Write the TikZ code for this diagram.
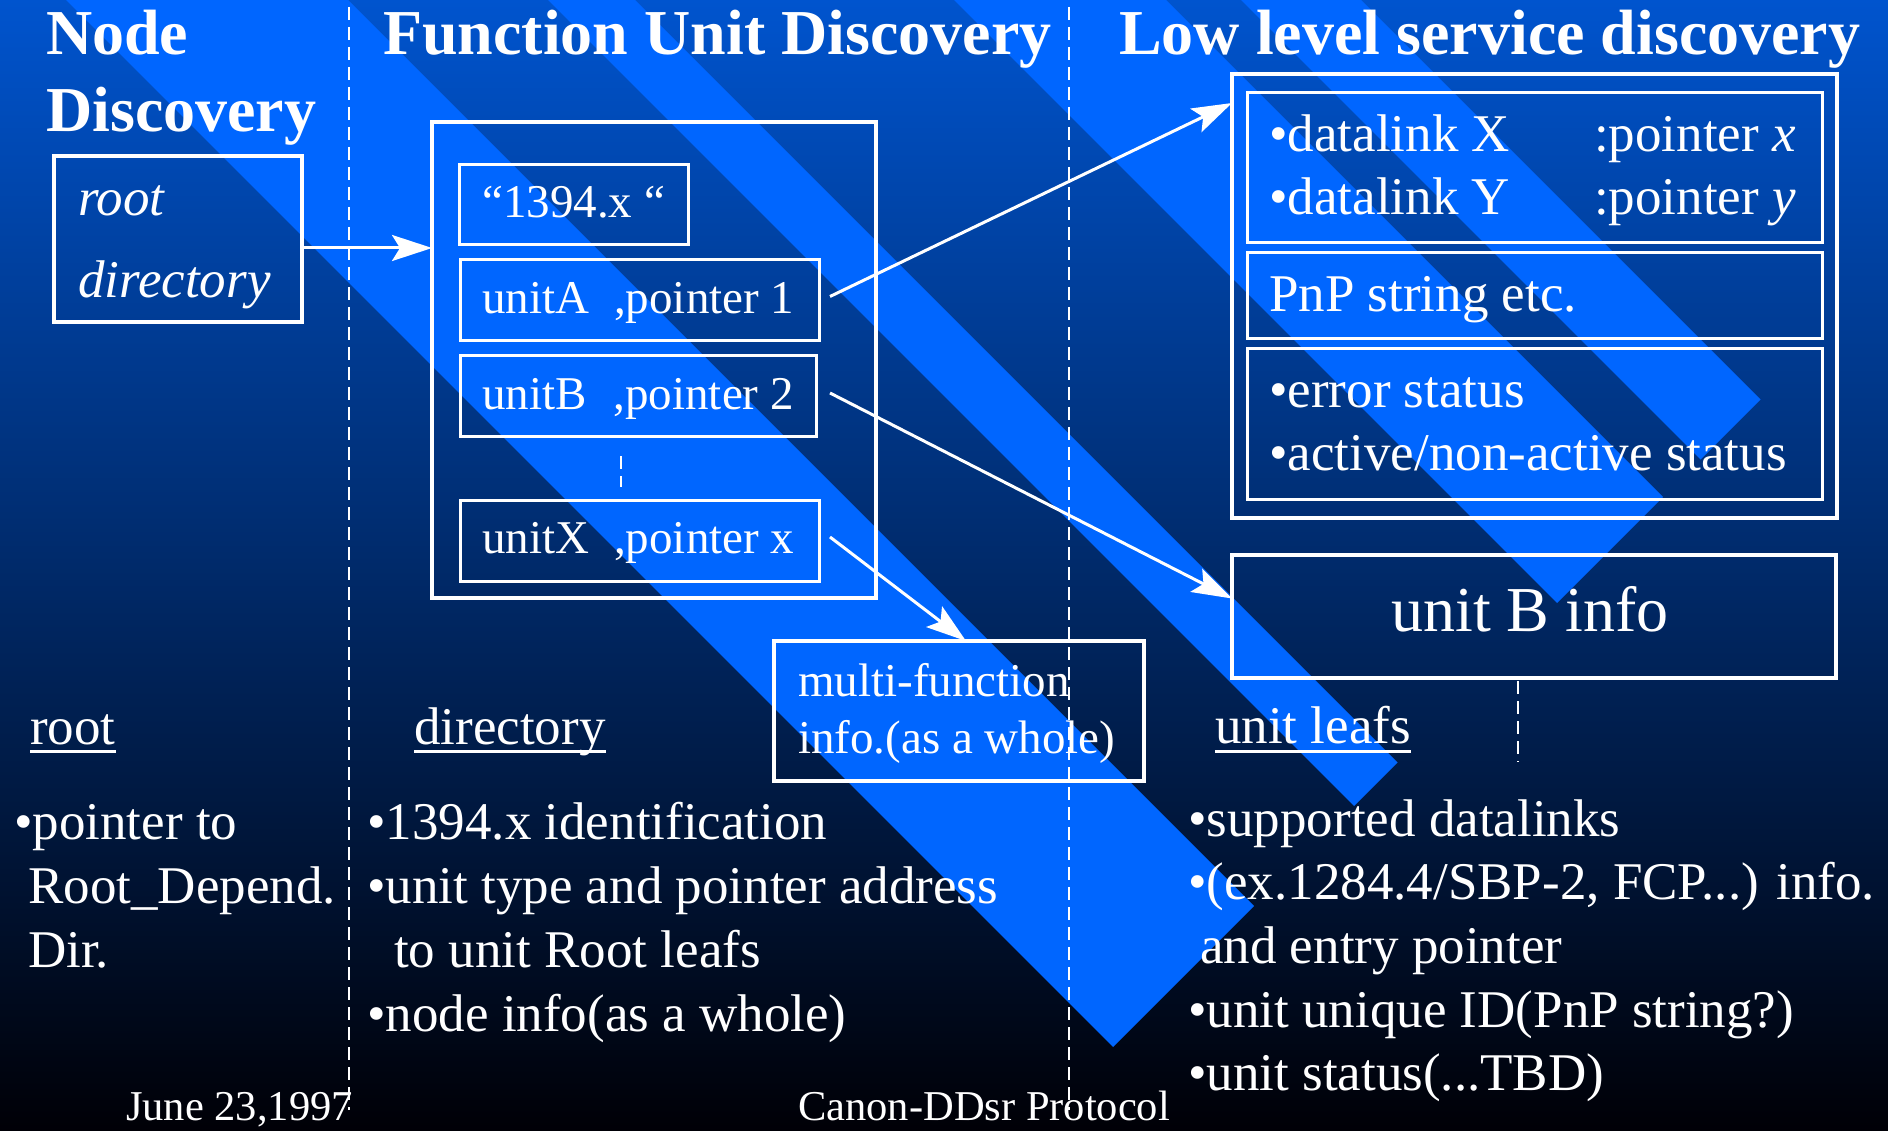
\documentclass[tikz,border=0pt]{standalone}
\usepackage{fontspec}
\setmainfont{Liberation Serif}
\usetikzlibrary{arrows.meta}
\definecolor{bgtop}{RGB}{0,84,206}
\definecolor{bgbot}{RGB}{0,0,6}
\definecolor{stripecol}{RGB}{0,102,255}
\begin{document}
\begin{tikzpicture}[x=1pt,y=-1pt,
  txt/.style={anchor=base west, inner sep=0pt, text=white, font=\fontsize{53}{60}\selectfont},
  sm/.style={txt, font=\fontsize{47}{54}\selectfont},
  ttl/.style={txt, font=\fontsize{64}{70}\selectfont\bfseries},
  foot/.style={txt, font=\fontsize{42.5}{48}\selectfont},
  obox/.style={draw=white, line width=4.5pt, anchor=north west, inner sep=0pt, outer sep=0pt},
  ibox/.style={obox, line width=3pt},
  dashline/.style={draw=white, line width=2.5pt, dash pattern=on 13pt off 7pt},
  arr/.style={draw=white, line width=3pt, -{Stealth[length=40pt,width=26pt,inset=8pt]}},
  uline/.style={draw=white, line width=3pt}]

\useasboundingbox (0,0) rectangle (1888,1131);
\shade[top color=bgtop, bottom color=bgbot] (0,0) rectangle (1888,1131);

% diagonal ribbons
\fill[stripecol] (66,0) -- (348,0) -- (1254,906) -- (1113,1047) -- cycle;
\fill[stripecol] (548,0) -- (635,0) -- (1397.5,762.5) -- (1354,806) -- cycle;
\fill[stripecol] (954,0) -- (1166,0) -- (1663,497) -- (1557,603) -- cycle;
\fill[stripecol] (1241,0) -- (1361,0) -- (1760.5,399.5) -- (1700.5,459.5) -- cycle;

% column separators
\coordinate (s1t) at (349,7);
\coordinate (s1b) at (349,1110);
\coordinate (s2t) at (1069,7);
\coordinate (s2b) at (1069,1110);
\draw[dashline] (s1t) -- (s1b);
\draw[dashline] (s2t) -- (s2b);

% titles
\node[ttl] (t1) at (46,55) {Node};
\node[ttl] (t2) at (46,132) {Discovery};
\node[ttl] (t3) at (383,55) {Function Unit Discovery};
\node[ttl] (t4) at (1119,55) {Low level service discovery};

% root directory box
\node[obox, minimum width=248pt, minimum height=166pt] (root) at (54,156) {};
\node[txt, font=\fontsize{53}{60}\selectfont\itshape] (rt1) at (78,216) {root};
\node[txt, font=\fontsize{53}{60}\selectfont\itshape] (rt2) at (78,298) {directory};

% function unit box
\node[obox, minimum width=444pt, minimum height=476pt] (fu) at (432,122) {};
\node[ibox, minimum width=229pt, minimum height=80pt] (b1394) at (459,165) {};
\node[ibox, minimum width=359pt, minimum height=81pt] (ua) at (460,260) {};
\node[ibox, minimum width=356pt, minimum height=81pt] (ub) at (460,356) {};
\node[ibox, minimum width=359pt, minimum height=81pt] (ux) at (460,500) {};
\node[sm] (t1394) at (482,218) {“1394.x “};
\node[sm] (tua) at (482,314) {unitA\hspace{25pt},pointer 1};
\node[sm] (tub) at (482,410) {unitB\hspace{27pt},pointer 2};
\node[sm] (tux) at (482,553) {unitX\hspace{25pt},pointer x};
\coordinate (dd1) at (621,456);
\coordinate (dd2) at (621,487);
\draw[dashline] (dd1) -- (dd2);

% low level service box
\node[obox, minimum width=605pt, minimum height=444pt] (llsd) at (1232,74) {};
\node[ibox, minimum width=575pt, minimum height=150pt] (dl) at (1247,93) {};
\node[ibox, minimum width=575pt, minimum height=86pt] (pnp) at (1247,253) {};
\node[ibox, minimum width=575pt, minimum height=150pt] (st) at (1247,349) {};
\node[txt] (dlx) at (1269,152) {•datalink X};
\node[txt] (dly) at (1269,215) {•datalink Y};
\node[txt] (ptx) at (1594,152) {:pointer \textit{x}};
\node[txt] (pty) at (1594,215) {:pointer \textit{y}};
\node[txt] (tpnp) at (1269,312) {PnP string etc.};
\node[txt] (terr) at (1269,408) {•error status};
\node[txt] (tact) at (1269,471) {•active/non-active status};

% unit B info
\node[obox, minimum width=604pt, minimum height=123pt] (ubi) at (1232,555) {};
\node[txt, font=\fontsize{64}{70}\selectfont] (tubi) at (1391,631) {unit B info};
\coordinate (du1) at (1518,681);
\coordinate (du2) at (1518,762);
\draw[dashline] (du1) -- (du2);

% multi-function box
\node[obox, minimum width=370pt, minimum height=140pt] (mf) at (774,641) {};
\node[sm] (tmf1) at (798,696) {multi-function};
\node[sm] (tmf2) at (798,753) {info.(as a whole)};

% arrows
\coordinate (ra) at ([yshift=-9pt]root.east);
\draw[arr] (ra) -- (ra -| fu.west);
\coordinate (ua1) at ([xshift=11pt,yshift=4pt]ua.east);
\coordinate (ua2) at ([yshift=-29pt]llsd.north west);
\draw[arr] (ua1) -- (ua2);
\coordinate (ub1) at ([xshift=14pt,yshift=3.5pt]ub.east);
\coordinate (ub2) at ([yshift=18pt]ubi.west);
\draw[arr] (ub1) -- (ub2);
\coordinate (ux1) at ([xshift=11pt,yshift=3.5pt]ux.east);
\coordinate (ux2) at ([xshift=7pt]mf.north);
\draw[arr] (ux1) -- (ux2);

% section labels
\node[txt] (lroot) at (30,744) {root};
\draw[uline] ([yshift=-7pt]lroot.base west) -- ([yshift=-7pt]lroot.base east);
\node[txt] (ldir) at (414,744) {directory};
\draw[uline] ([yshift=-7pt]ldir.base west) -- ([yshift=-7pt]ldir.base east);
\node[txt] (lleaf) at (1215,743) {unit leafs};
\draw[uline] ([yshift=-8pt]lleaf.base west) -- ([yshift=-8pt]lleaf.base east);

% left column
\node[txt] (a1) at (14,839) {•pointer to};
\node[txt] (a2) at (28,903) {Root\_Depend.};
\node[txt] (a3) at (28,967) {Dir.};

% middle column
\node[txt] (m1) at (367,839) {•1394.x identification};
\node[txt] (m2) at (367,903) {•unit type and pointer address};
\node[txt] (m3) at (394,967) {to unit Root leafs};
\node[txt] (m4) at (367,1031) {•node info(as a whole)};

% right column
\node[txt] (r1) at (1188,836) {•supported datalinks};
\node[txt] (r2) at (1188,899) {•(ex.1284.4/SBP-2, FCP...) info.};
\node[txt] (r3) at (1200,963) {and entry pointer};
\node[txt] (r4) at (1188,1027) {•unit unique ID(PnP string?)};
\node[txt] (r5) at (1188,1090) {•unit status(...TBD)};

% footer
\node[foot] (f1) at (126,1120) {June 23,1997};
\node[foot] (f2) at (798,1120) {Canon-DDsr Protocol};
\end{tikzpicture}
\end{document}
